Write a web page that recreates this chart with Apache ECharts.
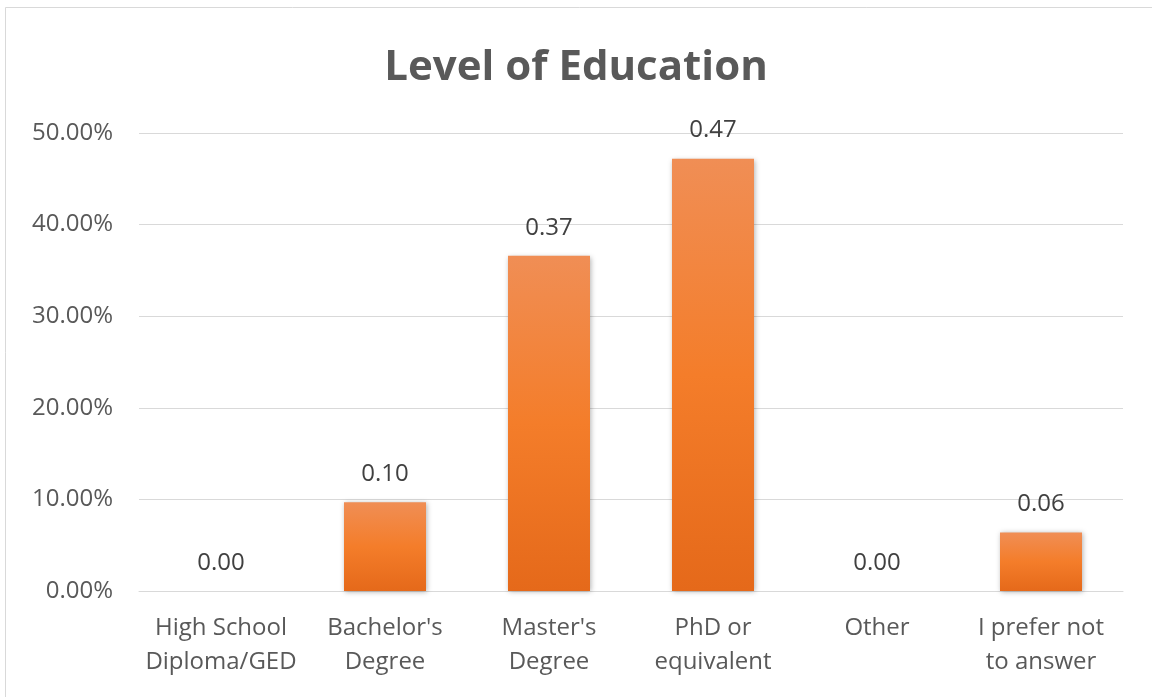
<!DOCTYPE html>
<html><head><meta charset="utf-8">
<script src="https://cdn.jsdelivr.net/npm/echarts@6/dist/echarts.min.js"></script>
<style>html,body{margin:0;padding:0;background:#fff}#c{width:1152px;height:697px}</style>
</head><body><div id="c"></div>
<script>
const categories = ["High School\nDiploma/GED", "Bachelor's\nDegree", "Master's\nDegree", "PhD or\nequivalent", "Other", "I prefer not\nto answer"];
const values = [0.0, 0.097, 0.366, 0.472, 0.0, 0.064];
const chart = echarts.init(document.getElementById('c'));
const font = "'Open Sans', 'Noto Sans', sans-serif";
chart.setOption({
  animation: false,
  backgroundColor: '#fff',
  graphic: [{type:'rect', shape:{x:5.5,y:7.5,width:1200,height:800}, style:{fill:'none', stroke:'#d9d9d9', lineWidth:1}, silent:true}],
  title: {text:'Level of Education', left:'center', top:42, textStyle:{fontFamily:font, fontSize:42, fontWeight:'bold', color:'#595959'}},
  grid: {left:139, right:29, top:133, bottom:106},
  xAxis: {type:'category', data:categories, axisTick:{show:false},
    axisLine:{lineStyle:{color:'#d9d9d9', width:1}},
    axisLabel:{fontFamily:font, fontSize:24, color:'#595959', lineHeight:34, margin:20, interval:0}},
  yAxis: {type:'value', min:0, max:0.5, interval:0.1,
    axisLabel:{fontFamily:font, fontSize:24, color:'#595959', margin:26, formatter:v=>(v*100).toFixed(2)+'%'},
    splitLine:{lineStyle:{color:'#d9d9d9', width:1}}, axisLine:{show:false}, axisTick:{show:false}},
  series: [{type:'bar', data:values, barWidth:'50%',
    itemStyle:{color:new echarts.graphic.LinearGradient(0,0,0,1,[{offset:0,color:'#F08E55'},{offset:0.5,color:'#F47D2A'},{offset:1,color:'#E5691A'}]),
      shadowColor:'rgba(0,0,0,0.3)', shadowBlur:5, shadowOffsetX:1, shadowOffsetY:1},
    label:{show:true, position:'top', distance:16, fontFamily:font, fontSize:24, color:'#404040', formatter:p=>p.value.toFixed(2)}}]
});
</script></body></html>
